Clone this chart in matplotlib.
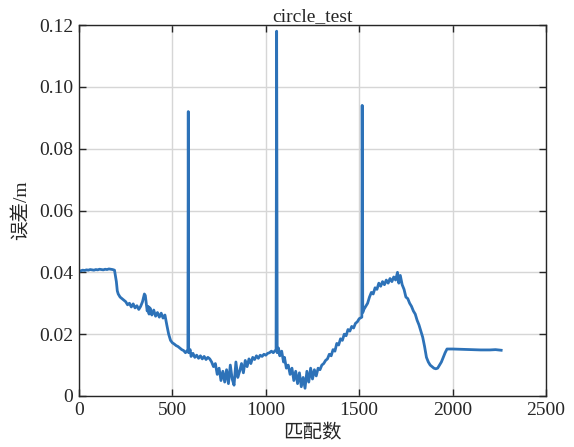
import numpy as np
import matplotlib
matplotlib.use("Agg")
import matplotlib.pyplot as plt

# match count vs error (m)
match_idx = [0, 10, 20, 30, 40, 50, 60, 70, 80, 90, 100, 110, 120, 130, 140, 150, 160, 170, 180, 190,
             200, 205, 210, 220, 230, 240, 250, 260, 270, 280, 290, 300, 310, 320, 330, 340, 350, 355,
             360, 365, 370, 375, 380, 390, 400, 410, 420, 430, 440, 450, 460, 465, 470, 480, 490, 500,
             510, 520, 530, 540, 550, 560, 570, 583, 585, 587, 595, 600, 610, 620, 630, 640, 650, 660,
             670, 680, 690, 700, 710, 720, 730, 740, 750, 760, 770, 780, 790, 800, 810, 820, 830, 840,
             850, 860, 870, 880, 890, 900, 910, 920, 930, 940, 950, 960, 970, 980, 990, 1000, 1010,
             1020, 1030, 1040, 1055, 1058, 1061, 1068, 1075, 1085, 1095, 1100, 1110, 1120, 1130, 1140,
             1150, 1160, 1170, 1180, 1190, 1200, 1210, 1220, 1230, 1240, 1250, 1260, 1270, 1280, 1290,
             1300, 1310, 1320, 1330, 1340, 1350, 1360, 1370, 1380, 1390, 1400, 1410, 1420, 1430, 1440,
             1450, 1460, 1470, 1480, 1490, 1500, 1514, 1516, 1519, 1525, 1535, 1545, 1555, 1565, 1575,
             1585, 1595, 1605, 1615, 1625, 1635, 1645, 1655, 1665, 1675, 1685, 1695, 1705, 1712, 1720,
             1730, 1740, 1750, 1760, 1770, 1780, 1790, 1800, 1810, 1820, 1830, 1840, 1850, 1860, 1870,
             1880, 1890, 1900, 1910, 1920, 1930, 1940, 1950, 1960, 1970, 2000, 2050, 2100, 2150, 2200,
             2230, 2260]
error_m = [0.0403, 0.0405, 0.0407, 0.0406, 0.0408, 0.0407, 0.0409, 0.0408, 0.0407, 0.0409, 0.0408,
           0.0410, 0.0409, 0.0408, 0.0410, 0.0409, 0.0411, 0.0410, 0.0409, 0.0407,
           0.0370, 0.0340, 0.0330, 0.0320, 0.0315, 0.0310, 0.0305, 0.0295, 0.0300, 0.0288, 0.0298,
           0.0285, 0.0292, 0.0280, 0.0290, 0.0305, 0.0330, 0.0325, 0.0300, 0.0275, 0.0290, 0.0265,
           0.0285, 0.0262, 0.0278, 0.0258, 0.0270, 0.0255, 0.0268, 0.0252, 0.0262, 0.0245, 0.0230,
           0.0200, 0.0180, 0.0172, 0.0168, 0.0163, 0.0160, 0.0155, 0.0150, 0.0147, 0.0140, 0.0150,
           0.0920, 0.0140, 0.0150, 0.0128, 0.0138, 0.0125, 0.0132, 0.0122, 0.0130, 0.0120, 0.0128,
           0.0118, 0.0125, 0.0120, 0.0110, 0.0095, 0.0105, 0.0070, 0.0090, 0.0050, 0.0080, 0.0045,
           0.0085, 0.0040, 0.0100, 0.0055, 0.0035, 0.0110, 0.0060, 0.0080, 0.0105, 0.0075, 0.0115,
           0.0095, 0.0120, 0.0105, 0.0125, 0.0118, 0.0130, 0.0122, 0.0132, 0.0128, 0.0135, 0.0132,
           0.0138, 0.0140, 0.0145, 0.0140, 0.0150, 0.1180, 0.0140, 0.0155, 0.0130, 0.0145, 0.0110,
           0.0125, 0.0090, 0.0100, 0.0070, 0.0090, 0.0050, 0.0080, 0.0040, 0.0075, 0.0030, 0.0060,
           0.0025, 0.0080, 0.0045, 0.0090, 0.0055, 0.0085, 0.0065, 0.0090, 0.0085, 0.0100, 0.0105,
           0.0115, 0.0120, 0.0135, 0.0130, 0.0150, 0.0145, 0.0170, 0.0165, 0.0185, 0.0180, 0.0200,
           0.0195, 0.0215, 0.0210, 0.0225, 0.0220, 0.0235, 0.0240, 0.0250, 0.0255, 0.0940, 0.0270,
           0.0280, 0.0290, 0.0300, 0.0320, 0.0335, 0.0330, 0.0350, 0.0345, 0.0365, 0.0355, 0.0370,
           0.0360, 0.0375, 0.0365, 0.0380, 0.0370, 0.0385, 0.0375, 0.0400, 0.0365, 0.0390, 0.0360,
           0.0345, 0.0320, 0.0315, 0.0300, 0.0290, 0.0275, 0.0265, 0.0245, 0.0230, 0.0210, 0.0190,
           0.0160, 0.0125, 0.0110, 0.0100, 0.0095, 0.0090, 0.0088, 0.0090, 0.0100, 0.0110, 0.0125,
           0.0140, 0.0152, 0.0152, 0.0151, 0.0150, 0.0149, 0.0149, 0.0150, 0.0148]

x_ticks = [0, 500, 1000, 1500, 2000, 2500]
y_ticks = [0, 0.02, 0.04, 0.06, 0.08, 0.10, 0.12]
y_tick_labels = ["0", "0.02", "0.04", "0.06", "0.08", "0.10", "0.12"]

fonts = ["Liberation Serif", "Noto Sans CJK SC", "DejaVu Sans"]
plt.rcParams["font.family"] = fonts

fig = plt.figure(figsize=(5.74, 4.47), dpi=100)
ax = fig.add_axes([79 / 574, 51 / 447, 467 / 574, 371 / 447])

ax.plot(match_idx, error_m, color="#2d72b8", linewidth=2.0)

ax.set_xlim(0, 2500)
ax.set_ylim(0, 0.12)
ax.set_xticks(x_ticks)
ax.set_yticks(y_ticks)
ax.set_yticklabels(y_tick_labels)
ax.grid(True, color="#d6d6d6", linewidth=1.0)
ax.set_axisbelow(True)
ax.tick_params(direction="in", length=5, width=1, colors="#262626",
               top=True, right=True, labelsize=14, pad=4)
for s in ax.spines.values():
    s.set_color("#262626")
    s.set_linewidth(1.0)

ax.set_title("circle_test", fontsize=14, pad=3, color="#262626")
ax.set_xlabel("匹配数", fontsize=14, labelpad=4, color="#262626")
ax.set_ylabel("误差/m", fontsize=14, labelpad=6, color="#262626")

fig.savefig("out.png", dpi=100)
